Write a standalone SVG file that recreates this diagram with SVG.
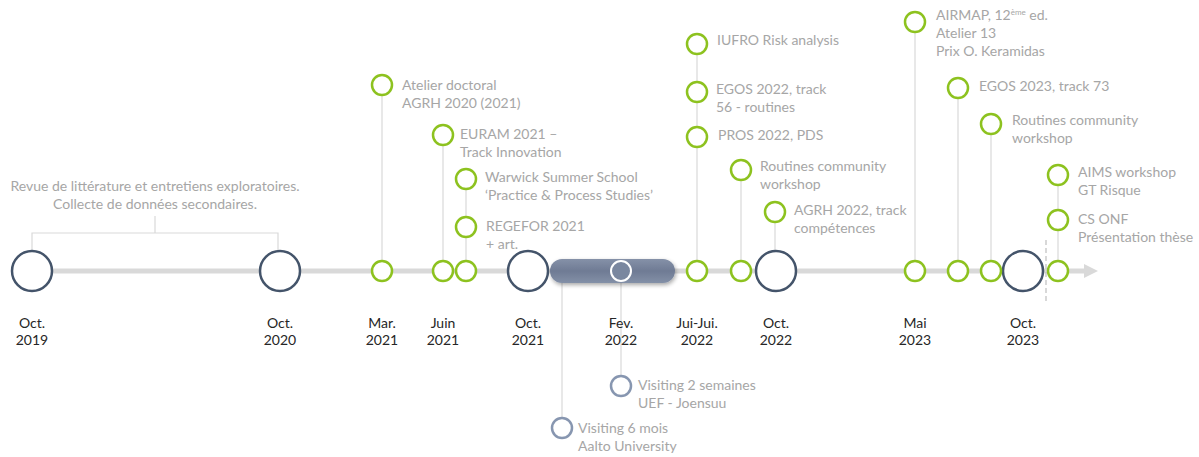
<svg xmlns="http://www.w3.org/2000/svg" width="1199" height="457" viewBox="0 0 1199 457">
<defs>
<style>
.axis{stroke:#d9d9d9;stroke-width:5;fill:none}
.vl{stroke:#d9d9d9;stroke-width:1.2;fill:none}
.big{fill:#fff;stroke:#44546a;stroke-width:2.5}
.g{fill:#fff;stroke:#8dc21f;stroke-width:2.5}
.bl{fill:#fff;stroke:#8796b0;stroke-width:2.5}
.lab{font-family:Lato,"Liberation Sans",sans-serif;font-size:14px;fill:#a6a6a6}
.date{font-family:Lato,"Liberation Sans",sans-serif;font-size:14px;fill:#262626;text-anchor:middle}
</style>
<linearGradient id="barg" x1="0" y1="0" x2="0" y2="1">
<stop offset="0" stop-color="#8591a8"/>
<stop offset="0.5" stop-color="#6f7b94"/>
<stop offset="1" stop-color="#8390a7"/>
</linearGradient>
<filter id="sh" x="-20%" y="-50%" width="140%" height="200%">
<feGaussianBlur in="SourceAlpha" stdDeviation="2"/>
<feOffset dx="1" dy="2"/>
<feComponentTransfer><feFuncA type="linear" slope="0.35"/></feComponentTransfer>
<feMerge><feMergeNode/><feMergeNode in="SourceGraphic"/></feMerge>
</filter>
</defs>
<rect width="1199" height="457" fill="#fff"/>
<g id="connectors">
<line class="axis" x1="32" y1="271" x2="1086" y2="271"/>
<polygon points="1084,264 1098,271 1084,278" fill="#d9d9d9"/>
<path class="vl" d="M32,250 V233 H278 V250 M155,233 V216"/>
<line class="vl" x1="382" y1="95" x2="382" y2="261"/>
<line class="vl" x1="443" y1="145" x2="443" y2="261"/>
<line class="vl" x1="466" y1="189" x2="466" y2="261"/>
<line class="vl" x1="697" y1="54" x2="697" y2="261"/>
<line class="vl" x1="741" y1="180" x2="741" y2="261"/>
<line class="vl" x1="775" y1="222" x2="775" y2="251"/>
<line class="vl" x1="915" y1="32" x2="915" y2="261"/>
<line class="vl" x1="958" y1="98" x2="958" y2="261"/>
<line class="vl" x1="991" y1="134" x2="991" y2="261"/>
<line class="vl" x1="1058" y1="185" x2="1058" y2="261"/>
<line class="vl" x1="562" y1="283" x2="562" y2="418"/>
<line class="vl" x1="621" y1="281" x2="621" y2="376"/>
<line x1="1046" y1="240" x2="1046" y2="304" stroke="#bfbfbf" stroke-width="1.2" stroke-dasharray="5,3"/>
</g>
<g id="bar">
<rect x="550" y="259" width="125" height="24" rx="12" fill="url(#barg)" filter="url(#sh)"/>
<circle cx="621" cy="271" r="10" fill="#7a879f" stroke="#fff" stroke-width="2"/>
</g>
<g id="big-circles">
<circle class="big" cx="32" cy="271" r="20"/>
<circle class="big" cx="280" cy="271" r="20"/>
<circle class="big" cx="528" cy="271" r="20"/>
<circle class="big" cx="776" cy="271" r="20"/>
<circle class="big" cx="1023" cy="271" r="20"/>
</g>
<g id="axis-nodes">
<circle class="g" cx="382" cy="271" r="10"/>
<circle class="g" cx="443" cy="271" r="10"/>
<circle class="g" cx="466" cy="271" r="10"/>
<circle class="g" cx="697" cy="271" r="10"/>
<circle class="g" cx="741" cy="271" r="10"/>
<circle class="g" cx="915" cy="271" r="10"/>
<circle class="g" cx="958" cy="271" r="10"/>
<circle class="g" cx="991" cy="271" r="10"/>
<circle class="g" cx="1058" cy="271" r="10"/>
</g>
<g id="dates">
<text class="date" x="32" y="328">Oct.<tspan x="32" y="345">2019</tspan></text>
<text class="date" x="280" y="328">Oct.<tspan x="280" y="345">2020</tspan></text>
<text class="date" x="382" y="328">Mar.<tspan x="382" y="345">2021</tspan></text>
<text class="date" x="443" y="328">Juin<tspan x="443" y="345">2021</tspan></text>
<text class="date" x="528" y="328">Oct.<tspan x="528" y="345">2021</tspan></text>
<text class="date" x="621" y="328">Fev.<tspan x="621" y="345">2022</tspan></text>
<text class="date" x="697" y="328">Jui-Jui.<tspan x="697" y="345">2022</tspan></text>
<text class="date" x="776" y="328">Oct.<tspan x="776" y="345">2022</tspan></text>
<text class="date" x="915" y="328">Mai<tspan x="915" y="345">2023</tspan></text>
<text class="date" x="1023" y="328">Oct.<tspan x="1023" y="345">2023</tspan></text>
</g>
<g id="revue">
<text class="lab" text-anchor="middle" x="155" y="191">Revue de littérature et entretiens exploratoires.<tspan x="155" y="209">Collecte de données secondaires.</tspan></text>
</g>
<g id="atelier"><circle class="g" cx="382" cy="85" r="10"/><text class="lab" x="402" y="90">Atelier doctoral<tspan x="402" y="108">AGRH 2020 (2021)</tspan></text></g>
<g id="euram"><circle class="g" cx="443" cy="135" r="10"/><text class="lab" x="460" y="139">EURAM 2021 –<tspan x="460" y="157">Track Innovation</tspan></text></g>
<g id="warwick"><circle class="g" cx="466" cy="179" r="10"/><text class="lab" x="485" y="182">Warwick Summer School<tspan x="485" y="200">‘Practice &amp; Process Studies’</tspan></text></g>
<g id="regefor"><circle class="g" cx="466" cy="227" r="10"/><text class="lab" x="486" y="231">REGEFOR 2021<tspan x="486" y="249">+ art.</tspan></text></g>
<g id="iufro"><circle class="g" cx="697" cy="44" r="10"/><text class="lab" x="717" y="45">IUFRO Risk analysis</text></g>
<g id="egos22"><circle class="g" cx="697" cy="92" r="10"/><text class="lab" x="716" y="94">EGOS 2022, track<tspan x="716" y="112">56 - routines</tspan></text></g>
<g id="pros"><circle class="g" cx="697" cy="137" r="10"/><text class="lab" x="718" y="140">PROS 2022, PDS</text></g>
<g id="routines22"><circle class="g" cx="741" cy="170" r="10"/><text class="lab" x="760" y="171">Routines community<tspan x="760" y="189">workshop</tspan></text></g>
<g id="agrh22"><circle class="g" cx="775" cy="212" r="10"/><text class="lab" x="794" y="215">AGRH 2022, track<tspan x="794" y="233">compétences</tspan></text></g>
<g id="airmap"><circle class="g" cx="915" cy="22" r="10"/><text class="lab" x="936" y="20">AIRMAP, 12<tspan font-size="8" dy="-5">ème</tspan><tspan dy="5"> ed.</tspan><tspan x="936" y="38">Atelier 13</tspan><tspan x="936" y="56">Prix O. Keramidas</tspan></text></g>
<g id="egos23"><circle class="g" cx="958" cy="88" r="10"/><text class="lab" x="979" y="91">EGOS 2023, track 73</text></g>
<g id="routines23"><circle class="g" cx="991" cy="124" r="10"/><text class="lab" x="1012" y="125">Routines community<tspan x="1012" y="143">workshop</tspan></text></g>
<g id="aims"><circle class="g" cx="1058" cy="175" r="10"/><text class="lab" x="1078" y="177">AIMS workshop<tspan x="1078" y="195">GT Risque</tspan></text></g>
<g id="csonf"><circle class="g" cx="1058" cy="220" r="10"/><text class="lab" x="1078" y="224">CS ONF<tspan x="1078" y="242">Présentation thèse</tspan></text></g>
<g id="uef"><circle class="bl" cx="621" cy="386" r="10"/><text class="lab" x="638" y="390">Visiting 2 semaines<tspan x="638" y="408">UEF - Joensuu</tspan></text></g>
<g id="aalto"><circle class="bl" cx="562" cy="428" r="10"/><text class="lab" x="578" y="433">Visiting 6 mois<tspan x="578" y="451">Aalto University</tspan></text></g>
</svg>
